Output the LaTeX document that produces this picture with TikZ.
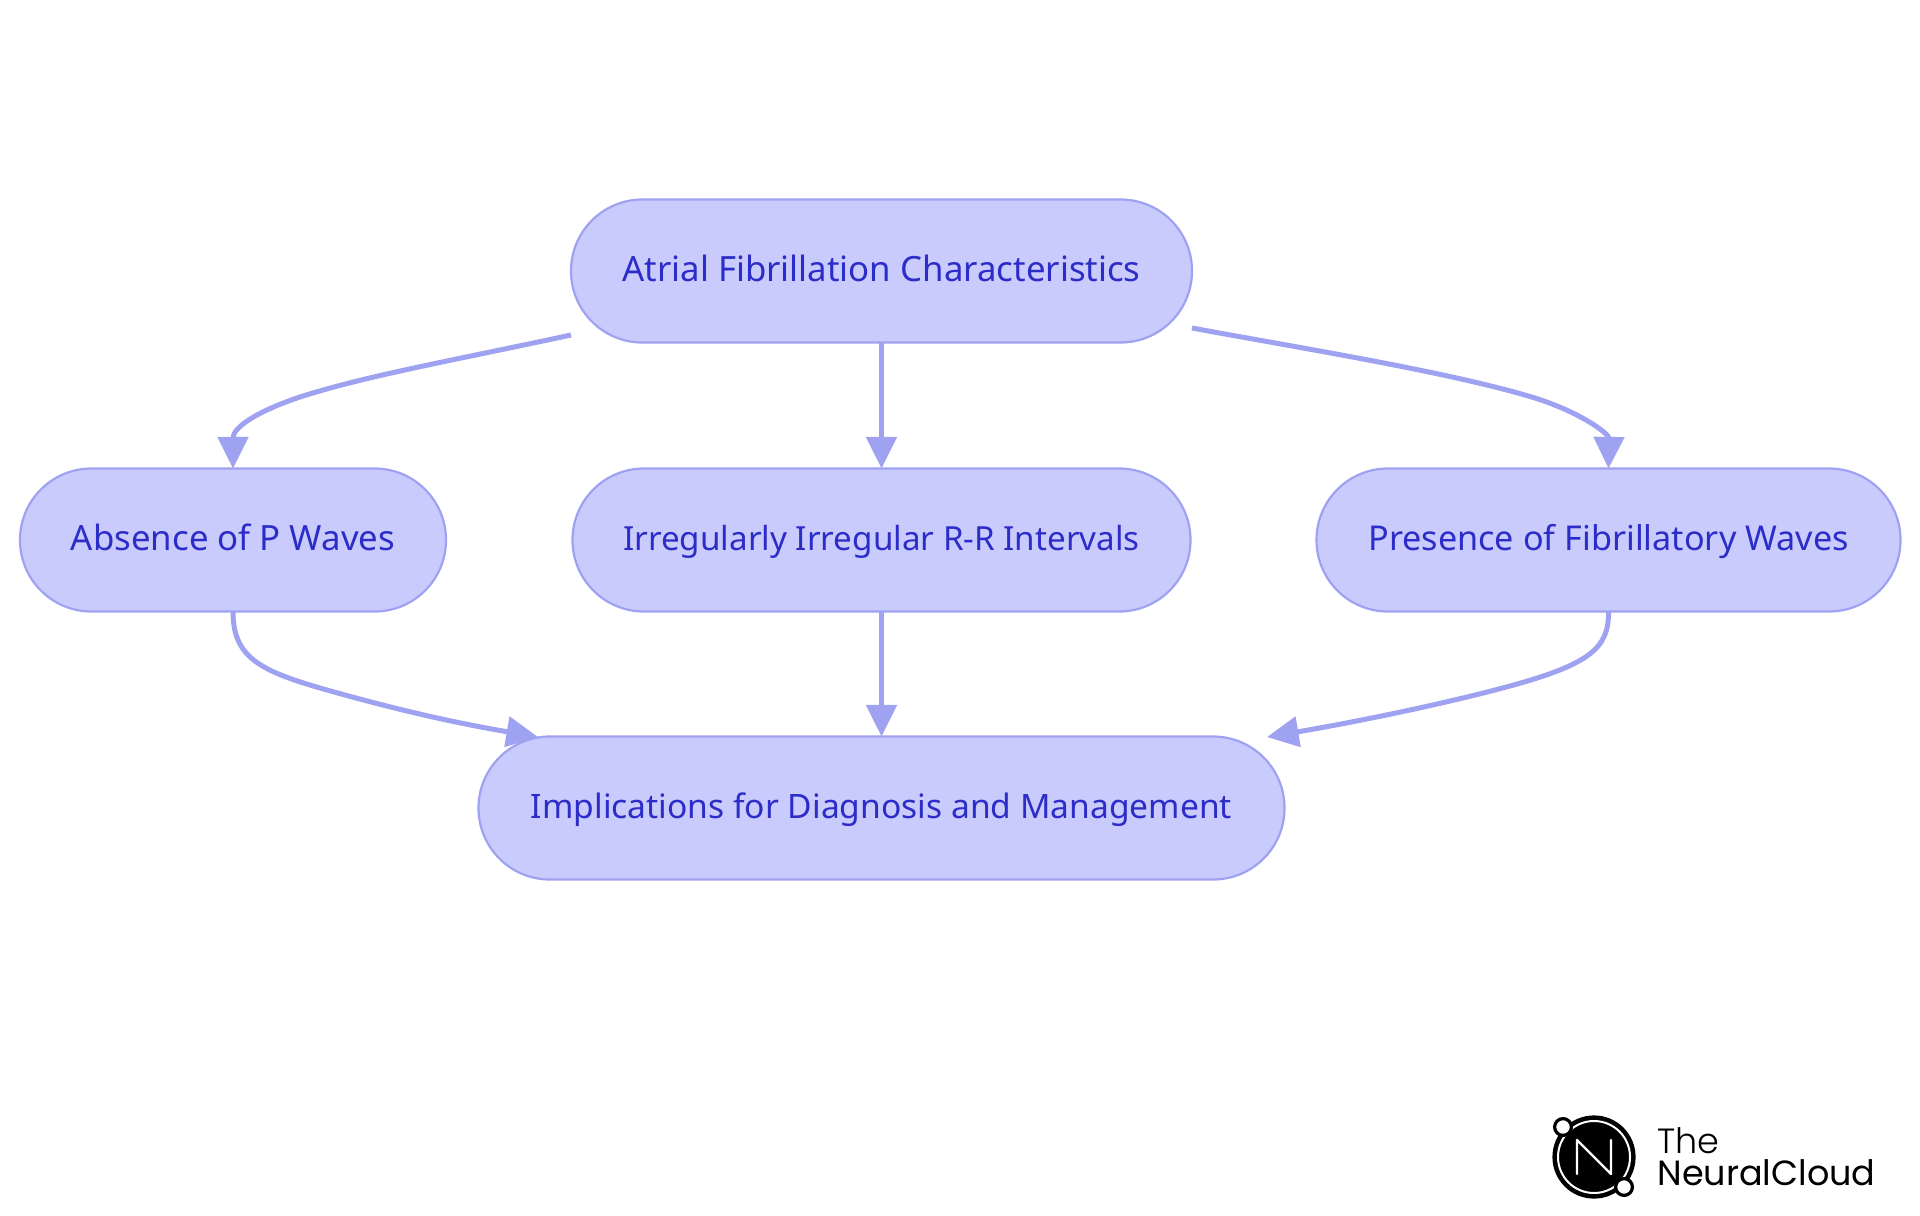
\documentclass[tikz,border=0pt]{standalone}
\usepackage{fontspec}
\setmainfont{Noto Sans}
\newfontfamily\logofont{Poppins}
\newfontfamily\logolight{Poppins Light}
\usetikzlibrary{arrows.meta}
\definecolor{nodefill}{RGB}{201,203,253}
\definecolor{nodeline}{RGB}{158,162,241}
\definecolor{nodetext}{RGB}{44,44,200}
\tikzset{
  flownode/.style={draw=nodeline,fill=nodefill,line width=1.1pt,rounded corners=35.7pt,outer sep=0pt,
    minimum height=71.5pt,inner sep=0pt,text=nodetext,text height=12pt,text depth=2pt},
  flowedge/.style={draw=nodeline,line width=2.5pt,-{Triangle[length=15.8pt,width=15pt]},fill=none},
  logotext/.style={anchor=base west,inner sep=0pt,text=black}
}
\newcommand{\nf}[1]{\fontsize{#1pt}{20pt}\selectfont}
\begin{document}
\begin{tikzpicture}[x=0.5pt,y=-0.5pt]
\useasboundingbox (0,0) rectangle (1920,1215);
\node[flownode,minimum width=310.5pt,font=\nf{17.4}] (top) at (881.5,271) {Atrial Fibrillation Characteristics};
\node[flownode,minimum width=213pt,font=\nf{17.4}] (pw) at (233,540) {Absence of P Waves};
\node[flownode,minimum width=309pt,font=\nf{16.6}] (rr) at (881.5,540) {Irregularly Irregular R-R Intervals};
\node[flownode,minimum width=292pt,font=\nf{17.1}] (fw) at (1608.5,540) {Presence of Fibrillatory Waves};
\node[flownode,minimum width=403pt,font=\nf{16.8}] (dm) at (881.5,808) {Implications for Diagnosis and Management};
\coordinate (sl) at (571,335);
\coordinate (sr) at (1192,328);
\coordinate (el) at (538,737);
\coordinate (er) at (1267,737);
\draw[flowedge] (sl) .. controls (450,361) and (365,376) .. (300,397) .. controls (258,411) and (233,427) .. (pw.north);
\draw[flowedge] (top.south) -- (rr.north);
\draw[flowedge] (sr) .. controls (1300,348) and (1450,372) .. (1535,398) .. controls (1582,413) and (1609,434) .. (fw.north);
\draw[flowedge] (pw.south) .. controls (233,656) and (258,670) .. (320,688) .. controls (390,708) and (450,722) .. (el);
\draw[flowedge] (rr.south) -- (dm.north);
\draw[flowedge] (fw.south) .. controls (1609,648) and (1590,664) .. (1510,686) .. controls (1440,705) and (1350,723) .. (er);
% logo
\fill[black] (1594,1157) circle[radius=20.8pt];
\draw[white,line width=1pt] (1594,1157) circle[radius=18pt];
\draw[white,line width=1.2pt,line join=round,line cap=round] (1577,1174) -- (1577,1140) -- (1611,1174) -- (1611,1140);
\draw[black,fill=white,line width=1.6pt] (1563,1127) circle[radius=4.2pt];
\draw[black,fill=white,line width=1.6pt] (1624,1187) circle[radius=4.2pt];
\node[logotext,font=\logolight\fontsize{17.5pt}{20pt}\selectfont] (the) at (1657,1153) {The};
\node[logotext,font=\logofont\fontsize{17.5pt}{20pt}\selectfont] (nc) at (1657,1185) {NeuralCloud};
\end{tikzpicture}
\end{document}
